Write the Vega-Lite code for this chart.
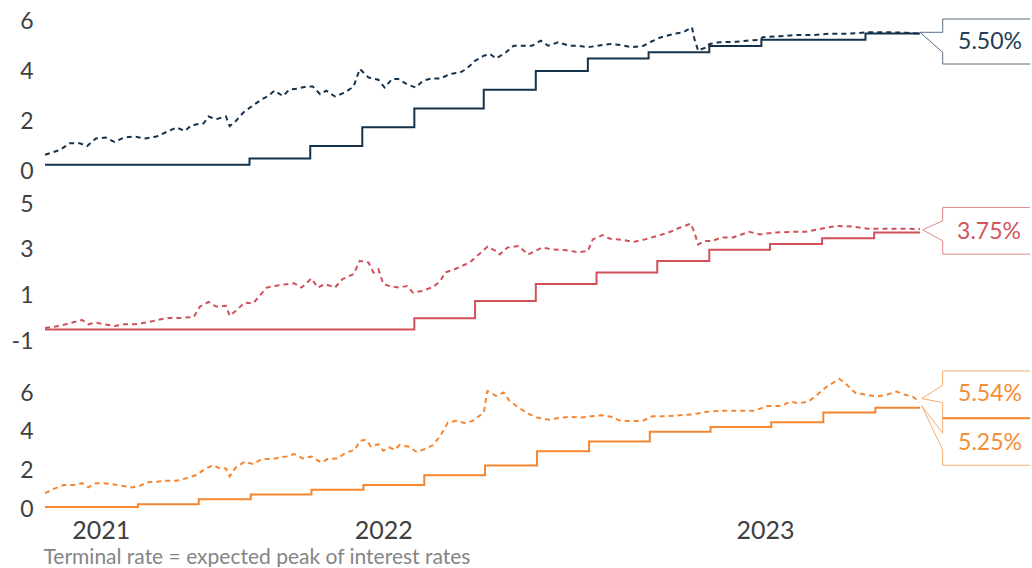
{
  "$schema": "https://vega.github.io/schema/vega-lite/v6.json",
  "padding": {"left": 11, "top": 10, "right": 0, "bottom": 0},
  "background": "white",
  "spacing": 33,
  "bounds": "flush",
  "resolve": {"scale": {"y": "independent"}},
  "config": {
    "view": {"stroke": null},
    "axis": {"domain": false, "ticks": false, "tickSize": 0, "grid": false, "labelFont": "Lato", "labelColor": "#404040", "title": null}
  },
  "datasets": {
    "us_rate": [
      {"date": "2021-10-02", "v": 0.25}, {"date": "2022-03-16", "v": 0.5}, {"date": "2022-05-04", "v": 1.0},
      {"date": "2022-06-15", "v": 1.75}, {"date": "2022-07-27", "v": 2.5}, {"date": "2022-09-21", "v": 3.25},
      {"date": "2022-11-02", "v": 4.0}, {"date": "2022-12-14", "v": 4.5}, {"date": "2023-02-01", "v": 4.75},
      {"date": "2023-03-22", "v": 5.0}, {"date": "2023-05-03", "v": 5.25}, {"date": "2023-07-26", "v": 5.5},
      {"date": "2023-09-08", "v": 5.5}
    ],
    "us_term": [
      {"date": "2021-10-02", "v": 0.65}, {"date": "2021-10-14", "v": 0.84}, {"date": "2021-10-22", "v": 1.11},
      {"date": "2021-10-30", "v": 1.11}, {"date": "2021-11-05", "v": 1.0}, {"date": "2021-11-12", "v": 1.3},
      {"date": "2021-11-20", "v": 1.34}, {"date": "2021-11-27", "v": 1.16}, {"date": "2021-12-05", "v": 1.34},
      {"date": "2021-12-13", "v": 1.38}, {"date": "2021-12-22", "v": 1.3}, {"date": "2021-12-31", "v": 1.38},
      {"date": "2022-01-08", "v": 1.56}, {"date": "2022-01-16", "v": 1.74}, {"date": "2022-01-23", "v": 1.6},
      {"date": "2022-01-28", "v": 1.83}, {"date": "2022-02-07", "v": 1.91}, {"date": "2022-02-11", "v": 2.18},
      {"date": "2022-02-17", "v": 2.07}, {"date": "2022-02-25", "v": 2.18}, {"date": "2022-02-28", "v": 1.8},
      {"date": "2022-03-05", "v": 2.0}, {"date": "2022-03-11", "v": 2.34}, {"date": "2022-03-19", "v": 2.63},
      {"date": "2022-03-27", "v": 2.9}, {"date": "2022-03-31", "v": 3.0}, {"date": "2022-04-05", "v": 3.21},
      {"date": "2022-04-12", "v": 3.0}, {"date": "2022-04-17", "v": 3.25}, {"date": "2022-04-24", "v": 3.3},
      {"date": "2022-05-01", "v": 3.38}, {"date": "2022-05-06", "v": 3.38}, {"date": "2022-05-12", "v": 3.07},
      {"date": "2022-05-17", "v": 3.21}, {"date": "2022-05-24", "v": 2.98}, {"date": "2022-06-01", "v": 3.14},
      {"date": "2022-06-08", "v": 3.38}, {"date": "2022-06-13", "v": 4.08}, {"date": "2022-06-20", "v": 3.74},
      {"date": "2022-06-28", "v": 3.65}, {"date": "2022-07-03", "v": 3.34}, {"date": "2022-07-09", "v": 3.68},
      {"date": "2022-07-14", "v": 3.68}, {"date": "2022-07-21", "v": 3.47}, {"date": "2022-07-28", "v": 3.34},
      {"date": "2022-08-03", "v": 3.61}, {"date": "2022-08-10", "v": 3.7}, {"date": "2022-08-17", "v": 3.7},
      {"date": "2022-08-25", "v": 3.88}, {"date": "2022-09-02", "v": 3.94}, {"date": "2022-09-07", "v": 4.08},
      {"date": "2022-09-14", "v": 4.41}, {"date": "2022-09-21", "v": 4.61}, {"date": "2022-09-26", "v": 4.68},
      {"date": "2022-10-01", "v": 4.5}, {"date": "2022-10-09", "v": 4.75}, {"date": "2022-10-15", "v": 5.01},
      {"date": "2022-10-23", "v": 5.01}, {"date": "2022-10-30", "v": 5.01}, {"date": "2022-11-06", "v": 5.21},
      {"date": "2022-11-12", "v": 5.01}, {"date": "2022-11-20", "v": 5.15}, {"date": "2022-11-29", "v": 5.01},
      {"date": "2022-12-06", "v": 5.01}, {"date": "2022-12-14", "v": 4.95}, {"date": "2022-12-22", "v": 5.01},
      {"date": "2023-01-01", "v": 5.08}, {"date": "2023-01-09", "v": 5.04}, {"date": "2023-01-18", "v": 4.95},
      {"date": "2023-01-28", "v": 5.01}, {"date": "2023-02-03", "v": 5.17}, {"date": "2023-02-11", "v": 5.35},
      {"date": "2023-02-21", "v": 5.48}, {"date": "2023-03-01", "v": 5.55}, {"date": "2023-03-08", "v": 5.75},
      {"date": "2023-03-10", "v": 5.28}, {"date": "2023-03-13", "v": 4.81}, {"date": "2023-03-16", "v": 4.88},
      {"date": "2023-03-20", "v": 4.95}, {"date": "2023-03-22", "v": 5.08}, {"date": "2023-03-30", "v": 5.15},
      {"date": "2023-04-13", "v": 5.17}, {"date": "2023-04-21", "v": 5.21}, {"date": "2023-05-02", "v": 5.25},
      {"date": "2023-05-04", "v": 5.35}, {"date": "2023-05-18", "v": 5.39}, {"date": "2023-05-31", "v": 5.44},
      {"date": "2023-06-14", "v": 5.44}, {"date": "2023-06-27", "v": 5.49}, {"date": "2023-07-11", "v": 5.49},
      {"date": "2023-07-21", "v": 5.52}, {"date": "2023-07-27", "v": 5.55}, {"date": "2023-08-12", "v": 5.55},
      {"date": "2023-08-28", "v": 5.53}, {"date": "2023-09-08", "v": 5.5}
    ],
    "us_call": [{"date": "2023-09-08", "v": 5.5, "label": "5.50%"}],
    "ez_rate": [
      {"date": "2021-10-02", "v": -0.5}, {"date": "2022-07-27", "v": 0}, {"date": "2022-09-14", "v": 0.75},
      {"date": "2022-11-02", "v": 1.5}, {"date": "2022-12-21", "v": 2.0}, {"date": "2023-02-08", "v": 2.5},
      {"date": "2023-03-22", "v": 3.0}, {"date": "2023-05-10", "v": 3.25}, {"date": "2023-06-21", "v": 3.5},
      {"date": "2023-08-02", "v": 3.75}, {"date": "2023-09-08", "v": 3.75}
    ],
    "ez_term": [
      {"date": "2021-10-02", "v": -0.43}, {"date": "2021-10-14", "v": -0.34}, {"date": "2021-10-22", "v": -0.22},
      {"date": "2021-11-01", "v": -0.08}, {"date": "2021-11-06", "v": -0.27}, {"date": "2021-11-12", "v": -0.19},
      {"date": "2021-11-19", "v": -0.27}, {"date": "2021-11-27", "v": -0.34}, {"date": "2021-12-05", "v": -0.27},
      {"date": "2021-12-13", "v": -0.27}, {"date": "2021-12-23", "v": -0.19}, {"date": "2022-01-01", "v": -0.08},
      {"date": "2022-01-09", "v": 0.01}, {"date": "2022-01-19", "v": 0.01}, {"date": "2022-01-30", "v": 0.05},
      {"date": "2022-02-04", "v": 0.51}, {"date": "2022-02-11", "v": 0.71}, {"date": "2022-02-17", "v": 0.51},
      {"date": "2022-02-25", "v": 0.54}, {"date": "2022-02-28", "v": 0.1}, {"date": "2022-03-05", "v": 0.32},
      {"date": "2022-03-12", "v": 0.68}, {"date": "2022-03-19", "v": 0.65}, {"date": "2022-03-24", "v": 0.97},
      {"date": "2022-03-30", "v": 1.34}, {"date": "2022-04-05", "v": 1.41}, {"date": "2022-04-15", "v": 1.49},
      {"date": "2022-04-21", "v": 1.53}, {"date": "2022-04-27", "v": 1.34}, {"date": "2022-05-05", "v": 1.74},
      {"date": "2022-05-10", "v": 1.34}, {"date": "2022-05-16", "v": 1.49}, {"date": "2022-05-24", "v": 1.34},
      {"date": "2022-05-30", "v": 1.71}, {"date": "2022-06-08", "v": 1.93}, {"date": "2022-06-13", "v": 2.51},
      {"date": "2022-06-20", "v": 2.44}, {"date": "2022-06-24", "v": 2.0}, {"date": "2022-06-28", "v": 2.14},
      {"date": "2022-07-02", "v": 1.49}, {"date": "2022-07-07", "v": 1.41}, {"date": "2022-07-15", "v": 1.34},
      {"date": "2022-07-21", "v": 1.41}, {"date": "2022-07-26", "v": 1.12}, {"date": "2022-08-02", "v": 1.19},
      {"date": "2022-08-11", "v": 1.36}, {"date": "2022-08-17", "v": 1.63}, {"date": "2022-08-21", "v": 2.01},
      {"date": "2022-08-28", "v": 2.13}, {"date": "2022-09-06", "v": 2.35}, {"date": "2022-09-11", "v": 2.5},
      {"date": "2022-09-17", "v": 2.79}, {"date": "2022-09-24", "v": 3.13}, {"date": "2022-10-01", "v": 2.94},
      {"date": "2022-10-04", "v": 2.79}, {"date": "2022-10-10", "v": 3.09}, {"date": "2022-10-19", "v": 3.16},
      {"date": "2022-10-27", "v": 2.79}, {"date": "2022-11-07", "v": 3.09}, {"date": "2022-11-16", "v": 3.01},
      {"date": "2022-11-27", "v": 2.97}, {"date": "2022-12-06", "v": 2.89}, {"date": "2022-12-14", "v": 2.94},
      {"date": "2022-12-18", "v": 3.45}, {"date": "2022-12-26", "v": 3.64}, {"date": "2023-01-01", "v": 3.48},
      {"date": "2023-01-11", "v": 3.43}, {"date": "2023-01-20", "v": 3.34}, {"date": "2023-01-29", "v": 3.45},
      {"date": "2023-02-08", "v": 3.6}, {"date": "2023-02-17", "v": 3.75}, {"date": "2023-02-26", "v": 3.96},
      {"date": "2023-03-07", "v": 4.14}, {"date": "2023-03-10", "v": 3.75}, {"date": "2023-03-13", "v": 3.23},
      {"date": "2023-03-18", "v": 3.38}, {"date": "2023-03-24", "v": 3.38}, {"date": "2023-04-01", "v": 3.53},
      {"date": "2023-04-10", "v": 3.53}, {"date": "2023-04-23", "v": 3.78}, {"date": "2023-05-02", "v": 3.67},
      {"date": "2023-05-14", "v": 3.75}, {"date": "2023-05-27", "v": 3.78}, {"date": "2023-06-08", "v": 3.78},
      {"date": "2023-06-24", "v": 3.96}, {"date": "2023-07-03", "v": 4.04}, {"date": "2023-07-15", "v": 4.01},
      {"date": "2023-07-28", "v": 3.92}, {"date": "2023-08-09", "v": 3.92}, {"date": "2023-08-25", "v": 3.92},
      {"date": "2023-09-08", "v": 3.9}
    ],
    "ez_call": [{"date": "2023-09-08", "v": 3.75, "label": "3.75%"}],
    "uk_rate": [
      {"date": "2021-10-02", "v": 0.1}, {"date": "2021-12-16", "v": 0.25}, {"date": "2022-02-03", "v": 0.5},
      {"date": "2022-03-17", "v": 0.75}, {"date": "2022-05-05", "v": 1.0}, {"date": "2022-06-16", "v": 1.25},
      {"date": "2022-08-04", "v": 1.75}, {"date": "2022-09-22", "v": 2.25}, {"date": "2022-11-03", "v": 3.0},
      {"date": "2022-12-15", "v": 3.5}, {"date": "2023-02-02", "v": 4.0}, {"date": "2023-03-23", "v": 4.25},
      {"date": "2023-05-11", "v": 4.5}, {"date": "2023-06-22", "v": 5.0}, {"date": "2023-08-03", "v": 5.25},
      {"date": "2023-09-08", "v": 5.25}
    ],
    "uk_term": [
      {"date": "2021-10-02", "v": 0.82}, {"date": "2021-10-10", "v": 1.07}, {"date": "2021-10-17", "v": 1.24},
      {"date": "2021-10-25", "v": 1.24}, {"date": "2021-11-01", "v": 1.34}, {"date": "2021-11-06", "v": 1.12},
      {"date": "2021-11-12", "v": 1.34}, {"date": "2021-11-18", "v": 1.34}, {"date": "2021-11-25", "v": 1.29},
      {"date": "2021-12-03", "v": 1.21}, {"date": "2021-12-11", "v": 1.12}, {"date": "2021-12-18", "v": 1.21},
      {"date": "2021-12-23", "v": 1.38}, {"date": "2021-12-31", "v": 1.41}, {"date": "2022-01-08", "v": 1.46},
      {"date": "2022-01-16", "v": 1.46}, {"date": "2022-01-24", "v": 1.59}, {"date": "2022-02-01", "v": 1.76},
      {"date": "2022-02-08", "v": 2.07}, {"date": "2022-02-15", "v": 2.28}, {"date": "2022-02-20", "v": 2.1},
      {"date": "2022-02-25", "v": 2.1}, {"date": "2022-02-28", "v": 1.69}, {"date": "2022-03-05", "v": 2.16},
      {"date": "2022-03-12", "v": 2.45}, {"date": "2022-03-19", "v": 2.33}, {"date": "2022-03-26", "v": 2.59},
      {"date": "2022-04-03", "v": 2.59}, {"date": "2022-04-09", "v": 2.67}, {"date": "2022-04-15", "v": 2.72},
      {"date": "2022-04-21", "v": 2.85}, {"date": "2022-04-28", "v": 2.62}, {"date": "2022-05-05", "v": 2.72},
      {"date": "2022-05-13", "v": 2.41}, {"date": "2022-05-18", "v": 2.59}, {"date": "2022-05-26", "v": 2.62},
      {"date": "2022-06-02", "v": 2.93}, {"date": "2022-06-09", "v": 3.07}, {"date": "2022-06-13", "v": 3.53},
      {"date": "2022-06-18", "v": 3.59}, {"date": "2022-06-22", "v": 3.24}, {"date": "2022-06-28", "v": 3.36},
      {"date": "2022-07-02", "v": 3.02}, {"date": "2022-07-07", "v": 3.19}, {"date": "2022-07-11", "v": 3.07},
      {"date": "2022-07-15", "v": 3.31}, {"date": "2022-07-22", "v": 3.24}, {"date": "2022-07-29", "v": 2.96},
      {"date": "2022-08-04", "v": 3.1}, {"date": "2022-08-11", "v": 3.31}, {"date": "2022-08-17", "v": 3.79},
      {"date": "2022-08-23", "v": 4.48}, {"date": "2022-08-30", "v": 4.57}, {"date": "2022-09-06", "v": 4.45},
      {"date": "2022-09-12", "v": 4.57}, {"date": "2022-09-21", "v": 5.0}, {"date": "2022-09-24", "v": 6.12},
      {"date": "2022-10-01", "v": 5.86}, {"date": "2022-10-07", "v": 6.04}, {"date": "2022-10-12", "v": 5.6},
      {"date": "2022-10-19", "v": 5.26}, {"date": "2022-10-27", "v": 4.95}, {"date": "2022-11-03", "v": 4.74},
      {"date": "2022-11-13", "v": 4.63}, {"date": "2022-11-22", "v": 4.74}, {"date": "2022-11-30", "v": 4.78},
      {"date": "2022-12-09", "v": 4.74}, {"date": "2022-12-17", "v": 4.81}, {"date": "2022-12-25", "v": 4.86},
      {"date": "2023-01-02", "v": 4.78}, {"date": "2023-01-08", "v": 4.6}, {"date": "2023-01-16", "v": 4.56},
      {"date": "2023-01-27", "v": 4.56}, {"date": "2023-02-04", "v": 4.81}, {"date": "2023-02-15", "v": 4.81},
      {"date": "2023-02-26", "v": 4.86}, {"date": "2023-03-09", "v": 4.91}, {"date": "2023-03-20", "v": 5.04},
      {"date": "2023-03-31", "v": 5.09}, {"date": "2023-04-14", "v": 5.09}, {"date": "2023-04-27", "v": 5.09},
      {"date": "2023-05-08", "v": 5.34}, {"date": "2023-05-19", "v": 5.34}, {"date": "2023-05-26", "v": 5.57},
      {"date": "2023-06-02", "v": 5.48}, {"date": "2023-06-10", "v": 5.57}, {"date": "2023-06-17", "v": 5.92},
      {"date": "2023-06-25", "v": 6.36}, {"date": "2023-07-05", "v": 6.74}, {"date": "2023-07-10", "v": 6.5},
      {"date": "2023-07-18", "v": 6.01}, {"date": "2023-07-27", "v": 5.92}, {"date": "2023-08-04", "v": 5.83},
      {"date": "2023-08-12", "v": 5.92}, {"date": "2023-08-20", "v": 6.09}, {"date": "2023-08-27", "v": 5.92},
      {"date": "2023-09-02", "v": 5.83}, {"date": "2023-09-08", "v": 5.54}
    ],
    "uk_call_term": [{"date": "2023-09-08", "v": 5.54, "label": "5.54%"}],
    "uk_call_rate": [{"date": "2023-09-08", "v": 5.25, "label": "5.25%"}]
  },
  "vconcat": [
    {
      "width": 875,
      "height": 150,
      "encoding": {
        "x": {"field": "date", "type": "temporal", "scale": {"type": "utc", "domain": [{"year": 2021, "month": 10, "date": 2, "utc": true}, {"year": 2023, "month": 9, "date": 8, "utc": true}]}, "axis": null},
        "y": {"field": "v", "type": "quantitative", "scale": {"domain": [0, 6], "nice": false, "zero": false}, "axis": {"values": [0, 2, 4, 6], "labelFontSize": 23, "labelPadding": 12}}
      },
      "layer": [
        {"data": {"name": "us_rate"}, "mark": {"type": "line", "interpolate": "step-after", "color": "#15324d", "strokeWidth": 2}},
        {"data": {"name": "us_term"}, "mark": {"type": "line", "color": "#15324d", "strokeWidth": 2, "strokeDash": [5, 4]}},
        {"data": {"name": "us_call"}, "mark": {"type": "point", "shape": "M2.2,-0.29 L0.454,-0.29 L0.454,-0.024 L0,-0.024 L0.454,0.376 L0.454,0.61 L2.2,0.61", "size": 10000, "filled": true, "fill": "white", "stroke": "#5b6e80", "strokeWidth": 1, "opacity": 1}},
        {"data": {"name": "us_call"}, "mark": {"type": "text", "dx": 70, "dy": 8, "fontSize": 23, "font": "Lato", "color": "#233d55", "align": "center", "baseline": "middle"}, "encoding": {"text": {"field": "label"}}}
      ]
    },
    {
      "width": 875,
      "height": 137,
      "encoding": {
        "x": {"field": "date", "type": "temporal", "scale": {"type": "utc", "domain": [{"year": 2021, "month": 10, "date": 2, "utc": true}, {"year": 2023, "month": 9, "date": 8, "utc": true}]}, "axis": null},
        "y": {"field": "v", "type": "quantitative", "scale": {"domain": [-1, 5], "nice": false, "zero": false}, "axis": {"values": [-1, 1, 3, 5], "labelExpr": "datum.value < 0 ? '-' + abs(datum.value) : '' + datum.value", "labelFontSize": 23, "labelPadding": 12}}
      },
      "layer": [
        {"data": {"name": "ez_rate"}, "mark": {"type": "line", "interpolate": "step-after", "color": "#d2505a", "strokeWidth": 2}},
        {"data": {"name": "ez_term"}, "mark": {"type": "line", "color": "#d2505a", "strokeWidth": 2, "strokeDash": [5, 4]}},
        {"data": {"name": "ez_call"}, "mark": {"type": "point", "shape": "M2.2,-0.502 L0.454,-0.502 L0.454,-0.234 L0.054,-0.054 L0.454,0.166 L0.454,0.432 L2.2,0.432", "size": 10000, "filled": true, "fill": "white", "stroke": "#e3868c", "strokeWidth": 1, "opacity": 1}},
        {"data": {"name": "ez_call"}, "mark": {"type": "text", "dx": 69, "dy": -1, "fontSize": 23, "font": "Lato", "color": "#d4545d", "align": "center", "baseline": "middle"}, "encoding": {"text": {"field": "label"}}}
      ]
    },
    {
      "width": 875,
      "height": 135,
      "encoding": {
        "x": {"field": "date", "type": "temporal", "scale": {"type": "utc", "domain": [{"year": 2021, "month": 10, "date": 2, "utc": true}, {"year": 2023, "month": 9, "date": 8, "utc": true}]},
          "axis": {"values": [{"year": 2021, "month": 11, "date": 16, "utc": true}, {"year": 2022, "month": 7, "date": 2, "utc": true}, {"year": 2023, "month": 5, "date": 6, "utc": true}], "labelExpr": "utcFormat(datum.value, '%Y')", "labelFontSize": 25, "labelBaseline": "alphabetic", "labelPadding": 29, "labelFlush": false, "labelOverlap": false,
            "title": "Terminal rate = expected peak of interest rates", "titleFont": "Lato", "titleFontSize": 21, "titleFontWeight": "normal", "titleColor": "#858585", "titleAnchor": "start", "titleAlign": "left", "titleX": -2, "titleY": 54, "titleBaseline": "alphabetic"}},
        "y": {"field": "v", "type": "quantitative", "scale": {"domain": [0, 7], "nice": false, "zero": false}, "axis": {"values": [0, 2, 4, 6], "labelFontSize": 23, "labelPadding": 12}}
      },
      "layer": [
        {"data": {"name": "uk_rate"}, "mark": {"type": "line", "interpolate": "step-after", "color": "#f5862f", "strokeWidth": 2}},
        {"data": {"name": "uk_term"}, "mark": {"type": "line", "color": "#f5862f", "strokeWidth": 2, "strokeDash": [5, 4]}},
        {"data": {"name": "uk_call_term"}, "mark": {"type": "point", "shape": "M2.2,-0.624 L0.454,-0.624 L0.454,-0.338 L0.034,-0.072 L0.454,0.008 L0.454,0.322 L2.2,0.322", "size": 10000, "filled": true, "fill": "white", "stroke": "#f8ad6c", "strokeWidth": 1, "opacity": 1}},
        {"data": {"name": "uk_call_rate"}, "mark": {"type": "point", "shape": "M2.2,0.21 L0.454,0.21 L0.454,0.51 L0.034,-0.04 L0.454,0.844 L0.454,1.15 L2.2,1.15", "size": 10000, "filled": true, "fill": "white", "stroke": "#f8ad6c", "strokeWidth": 1, "opacity": 1}},
        {"data": {"name": "uk_call_rate"}, "mark": {"type": "point", "shape": "M0.454,0.21 L2.2,0.21", "size": 10000, "filled": false, "stroke": "#f5862f", "strokeWidth": 2, "opacity": 1}},
        {"data": {"name": "uk_call_term"}, "mark": {"type": "text", "dx": 70, "dy": -8, "fontSize": 23, "font": "Lato", "color": "#f58d36", "align": "center", "baseline": "middle"}, "encoding": {"text": {"field": "label"}}},
        {"data": {"name": "uk_call_rate"}, "mark": {"type": "text", "dx": 70, "dy": 35.5, "fontSize": 23, "font": "Lato", "color": "#f58d36", "align": "center", "baseline": "middle"}, "encoding": {"text": {"field": "label"}}}
      ]
    }
  ]
}
